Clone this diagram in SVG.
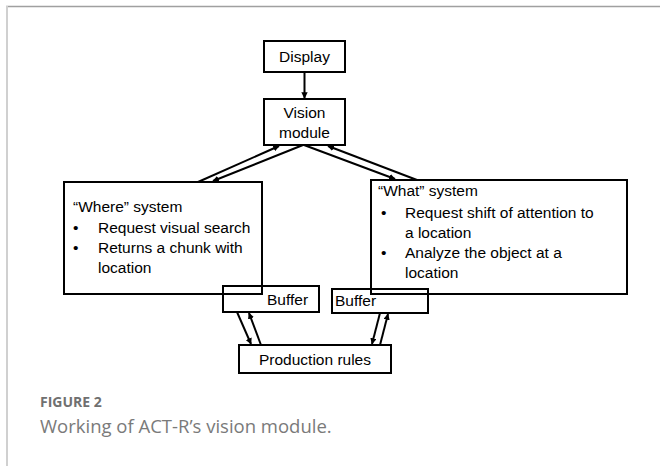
<svg xmlns="http://www.w3.org/2000/svg" width="660" height="466" viewBox="0 0 660 466">
  <defs>
    <marker id="arrow" viewBox="0 0 10 10" refX="9" refY="5" markerWidth="3.2" markerHeight="3.2" orient="auto" markerUnits="strokeWidth">
      <path d="M0,0 L10,5 L0,10 z" fill="#000"/>
    </marker>
  </defs>
  <style>
    .box { fill: none; stroke: #000; stroke-width: 2; }
    .lbl { font-family: "Liberation Sans", Arial, sans-serif; font-size: 15.5px; fill: #000; }
    .conn { stroke: #000; stroke-width: 2; fill: none; marker-end: url(#arrow); }
    .cap1 { font-family: "Open Sans", "Liberation Sans", sans-serif; font-size: 14px; font-weight: bold; fill: #707070; }
    .cap2 { font-family: "Open Sans", "Liberation Sans", sans-serif; font-size: 18.5px; fill: #7a7a7a; }
  </style>
  <rect width="660" height="466" fill="#fff"/>
  <!-- panel frame -->
  <line x1="6" y1="6.5" x2="660" y2="6.5" stroke="#a0a0a0" stroke-width="1.5"/>
  <line x1="7" y1="6" x2="7" y2="466" stroke="#d0d0d0" stroke-width="2"/>

  <g id="display">
    <rect class="box" x="264" y="41" width="81" height="31"/>
    <text class="lbl" x="304.5" y="62" text-anchor="middle">Display</text>
  </g>
  <g id="vision">
    <rect class="box" x="264" y="99" width="81" height="46"/>
    <text class="lbl" x="304.5" y="118" text-anchor="middle">Vision</text>
    <text class="lbl" x="304.5" y="138" text-anchor="middle">module</text>
  </g>
  <g id="where">
    <rect class="box" x="64" y="182" width="198" height="112"/>
    <text class="lbl" x="73" y="212">“Where” system</text>
    <text class="lbl" x="73" y="233">•</text>
    <text class="lbl" x="98" y="233">Request visual search</text>
    <text class="lbl" x="73" y="253">•</text>
    <text class="lbl" x="98" y="253">Returns a chunk with</text>
    <text class="lbl" x="98" y="273">location</text>
  </g>
  <g id="what">
    <rect class="box" x="371" y="180" width="256" height="114"/>
    <text class="lbl" x="378" y="196">“What” system</text>
    <text class="lbl" x="381" y="218">•</text>
    <text class="lbl" x="405" y="218">Request shift of attention to</text>
    <text class="lbl" x="405" y="238">a location</text>
    <text class="lbl" x="381" y="258">•</text>
    <text class="lbl" x="405" y="258">Analyze the object at a</text>
    <text class="lbl" x="405" y="278">location</text>
  </g>
  <g id="buffer-left">
    <rect class="box" x="223" y="286" width="96" height="26"/>
    <text class="lbl" x="267" y="305">Buffer</text>
  </g>
  <g id="buffer-right">
    <rect class="box" x="332" y="289" width="96" height="24"/>
    <text class="lbl" x="335" y="306">Buffer</text>
  </g>
  <g id="production">
    <rect class="box" x="239" y="345" width="152" height="28"/>
    <text class="lbl" x="315" y="365" text-anchor="middle">Production rules</text>
  </g>

  <g id="connectors">
    <line class="conn" x1="304.5" y1="72" x2="304.5" y2="98"/>
    <line class="conn" x1="198" y1="182" x2="279" y2="146"/>
    <line class="conn" x1="303" y1="145" x2="213" y2="181"/>
    <line class="conn" x1="304" y1="145" x2="395" y2="179"/>
    <line class="conn" x1="417" y1="180" x2="328" y2="146"/>
    <line class="conn" x1="237" y1="312" x2="251" y2="344"/>
    <line class="conn" x1="261" y1="345" x2="249" y2="313"/>
    <line class="conn" x1="380" y1="313" x2="372" y2="344"/>
    <line class="conn" x1="380" y1="345" x2="388" y2="314"/>
  </g>

  <text class="cap1" x="40" y="407">FIGURE 2</text>
  <text class="cap2" x="40" y="433">Working of ACT-R’s vision module.</text>
</svg>
